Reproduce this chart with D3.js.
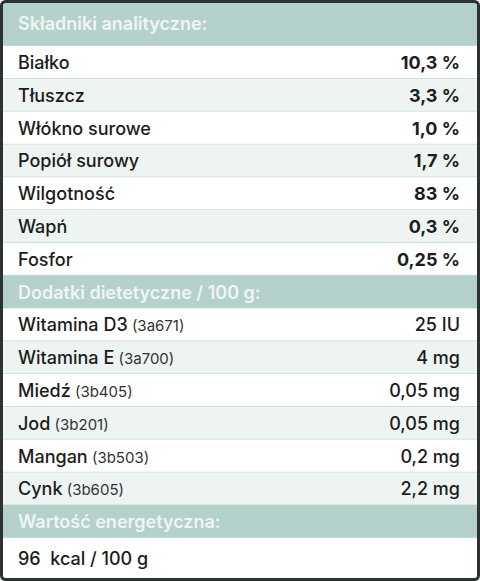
<!DOCTYPE html>
<html lang="pl">
<head>
<meta charset="UTF-8">
<title>Skład</title>
<style>body{margin:0;background:#fff} text{white-space:pre}</style>
</head>
<body>
<div id="table"></div>
<script src="https://cdnjs.cloudflare.com/ajax/libs/d3/7.8.5/d3.min.js"></script>
<script>
    // row data: [label, code, value]
    const headers = ["Składniki analityczne:", "Dodatki dietetyczne / 100 g:", "Wartość energetyczna:"];
    const analytic = [["Białko", "", "10,3 %"], ["Tłuszcz", "", "3,3 %"], ["Włókno surowe", "", "1,0 %"],
        ["Popiół surowy", "", "1,7 %"], ["Wilgotność", "", "83 %"], ["Wapń", "", "0,3 %"], ["Fosfor", "", "0,25 %"]];
    const additives = [["Witamina D3", "(3a671)", "25 IU"], ["Witamina E", "(3a700)", "4 mg"], ["Miedź", "(3b405)", "0,05 mg"],
        ["Jod", "(3b201)", "0,05 mg"], ["Mangan", "(3b503)", "0,2 mg"], ["Cynk", "(3b605)", "2,2 mg"]];
    const energy = [["96  kcal / 100 g", "", ""]];

    const W = 480, H = 581;
    const rows = [];
    rows.push({type: "h", text: headers[0]});
    analytic.forEach((r, i) => rows.push({type: "r", r, i, bold: true}));
    rows.push({type: "h", text: headers[1]});
    additives.forEach((r, i) => rows.push({type: "r", r, i, bold: false}));
    rows.push({type: "h", text: headers[2]});
    energy.forEach((r, i) => rows.push({type: "r", r, i, bold: false}));

    // heights: first header and last row a bit taller
    const heights = rows.map((d, i) => i === 0 ? 43 : (i === rows.length - 1 ? 41 : 32.8));
    let acc = 3;
    const tops = heights.map(h => { const t = acc; acc += h; return t; });

    const svg = d3.select("#table").append("svg").attr("width", W).attr("height", H)
        .style("font-family", "Inter, 'Noto Sans', sans-serif");

    const g = svg.selectAll("g.row").data(rows).join("g")
        .attr("transform", (d, i) => `translate(0,${tops[i]})`);

    g.append("rect").attr("x", 3).attr("width", W - 6).attr("height", (d, i) => heights[i])
        .attr("fill", d => d.type === "h" ? "#b4d1cb" : (d.i % 2 ? "#edf4f2" : "#ffffff"));
    g.append("line").attr("x1", 3).attr("x2", W - 3).attr("y1", (d, i) => heights[i]).attr("y2", (d, i) => heights[i])
        .attr("stroke", "#c9dcd8").attr("stroke-width", 1.5);

    const heads = g.filter(d => d.type === "h");
    heads.append("text").attr("x", 18).attr("y", (d, i) => (i === 0 ? 27 : 23)).attr("fill", "#eef6f4")
        .attr("font-size", 18).attr("font-weight", 600).text(d => d.text);

    const body = g.filter(d => d.type === "r");
    const lab = body.append("text").attr("x", 18).attr("y", (d) => d === rows[rows.length - 1] ? 27 : 23)
        .attr("fill", "#1c1c1c").attr("font-size", 18).attr("font-weight", 500);
    lab.append("tspan").text(d => d.r[0]);
    lab.append("tspan").attr("font-size", 15).attr("font-weight", 400).attr("fill", "#333")
        .text(d => d.r[1] ? " " + d.r[1] : "");
    body.append("text").attr("x", W - 20).attr("y", 23).attr("text-anchor", "end")
        .attr("fill", "#1c1c1c").attr("font-size", 18).attr("font-weight", d => d.bold ? 700 : 500)
        .text(d => d.r[2]);

    svg.append("rect").attr("x", 1.5).attr("y", 1.5).attr("width", W - 3).attr("height", H - 3)
        .attr("rx", 4).attr("fill", "none").attr("stroke", "#2a3331").attr("stroke-width", 3);
</script>
</body>
</html>
